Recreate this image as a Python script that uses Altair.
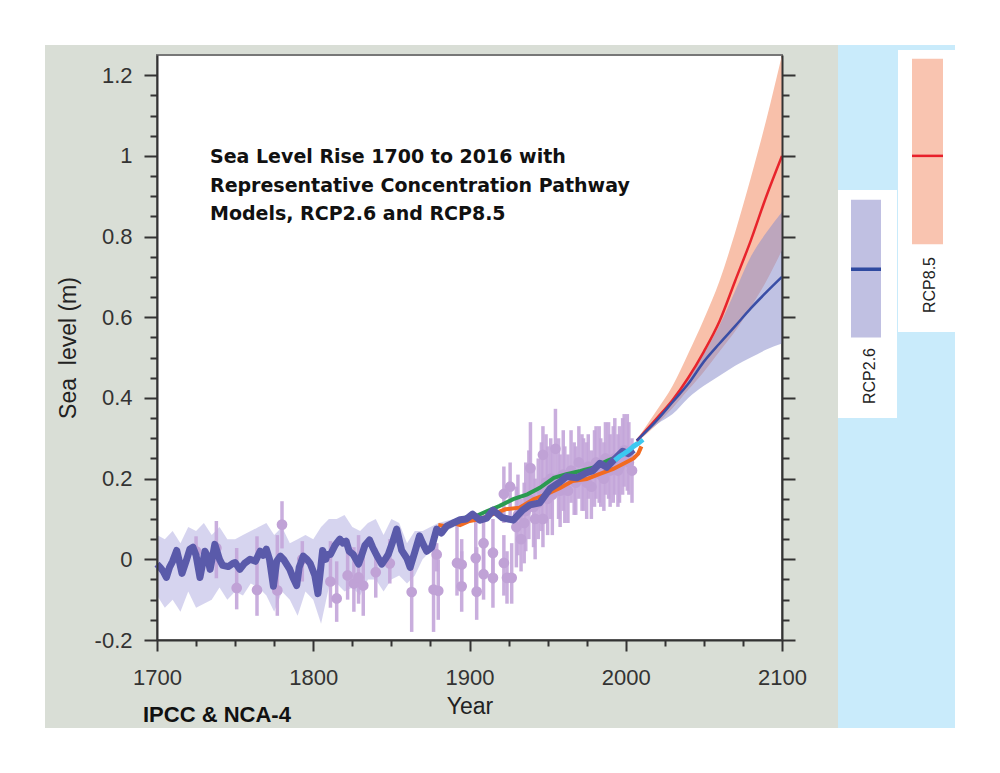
import altair as alt
import pandas as pd

# ---------------- reconstructed global mean sea level (thick blue) ----------------
recon_year = [1700, 1702, 1704, 1706, 1708, 1710, 1712.6, 1714, 1716, 1719, 1721, 1723, 1725,
              1727.5, 1730.7, 1732, 1734, 1737, 1740, 1742, 1745.6, 1748.6, 1750, 1753, 1756,
              1759.5, 1763, 1766, 1768, 1770, 1772, 1774.5, 1776.6, 1779, 1781, 1785, 1787,
              1789.4, 1791, 1793.6, 1796, 1798, 1801, 1803, 1806, 1808, 1809, 1811, 1814, 1817,
              1819, 1821, 1823, 1825.6, 1829, 1831, 1833, 1836, 1838, 1840.6, 1843.8, 1846,
              1848, 1851, 1853.4, 1856.6, 1860, 1862, 1865, 1868, 1870, 1872.6, 1875.8, 1879,
              1882, 1885.4, 1889.6, 1894, 1898, 1902, 1906.7, 1911, 1915, 1921, 1928, 1934,
              1938.7, 1945, 1951.5, 1958, 1962, 1968.6, 1975, 1979, 1983.5, 1987.8, 1992, 1998,
              2001.5, 2005]
recon_val = [-0.012, -0.02, -0.03, -0.045, -0.02, -0.005, 0.022, 0.0, -0.035, 0.0, 0.025, 0.03,
             0.01, -0.045, 0.02, 0.01, -0.025, 0.037, 0.0, -0.015, -0.018, -0.01, -0.008,
             -0.025, -0.01, 0.0, -0.005, 0.02, 0.01, 0.025, 0.0, -0.067, -0.005, 0.008, 0.0,
             -0.025, -0.045, -0.065, -0.02, 0.008, 0.0, -0.01, -0.04, -0.085, 0.022, 0.0, 0.012,
             0.012, 0.035, 0.05, 0.04, 0.045, 0.02, 0.012, -0.012, 0.01, 0.034, 0.048, 0.03,
             0.01, -0.012, 0.0, 0.012, 0.045, 0.075, 0.022, 0.002, -0.02, 0.018, 0.058, 0.04,
             0.02, 0.03, 0.075, 0.065, 0.082, 0.09, 0.098, 0.1, 0.112, 0.097, 0.102, 0.122,
             0.103, 0.097, 0.122, 0.135, 0.14, 0.175, 0.192, 0.205, 0.202, 0.215, 0.22, 0.238,
             0.228, 0.245, 0.268, 0.262, 0.272]

# uncertainty envelope of the reconstruction
band_year = [1700, 1705, 1710, 1715, 1720, 1725, 1730, 1735, 1740, 1745, 1750, 1755, 1760,
             1765, 1770, 1775, 1780, 1785, 1790, 1795, 1800, 1805, 1810, 1815, 1820, 1825,
             1830, 1835, 1840, 1845, 1850, 1855, 1860, 1865, 1870, 1875, 1880, 1890]
band_hi = [0.06, 0.05, 0.07, 0.04, 0.08, 0.07, 0.09, 0.06, 0.08, 0.05, 0.05, 0.06, 0.07,
           0.08, 0.09, 0.06, 0.08, 0.04, 0.05, 0.06, 0.05, 0.08, 0.10, 0.10, 0.11, 0.08,
           0.07, 0.09, 0.10, 0.06, 0.10, 0.09, 0.04, 0.07, 0.07, 0.08, 0.09, 0.10]
band_lo = [-0.09, -0.12, -0.10, -0.13, -0.08, -0.12, -0.11, -0.10, -0.07, -0.10, -0.08, -0.09,
           -0.06, -0.07, -0.09, -0.13, -0.08, -0.10, -0.14, -0.08, -0.10, -0.16, -0.07, -0.06,
           -0.08, -0.07, -0.09, -0.05, -0.05, -0.08, -0.05, -0.04, -0.06, -0.04, 0.0, 0.02,
           0.06, 0.08]

# tide-gauge / proxy estimates with error bars (lilac)
tg_year = [1725, 1738, 1751, 1764, 1777, 1780, 1793, 1811, 1815, 1822, 1826, 1829, 1832,
           1840, 1849, 1863, 1877, 1880, 1879, 1892, 1895, 1895, 1904, 1904.6, 1909, 1909,
           1915, 1915, 1922, 1922, 1924, 1926, 1927, 1930, 1933, 1936, 1939, 1942, 1944,
           1947, 1947, 1950, 1952, 1955, 1958, 1960, 1963, 1965, 1968, 1970, 1973, 1976,
           1978, 1981, 1984, 1987, 1990, 1993, 1996, 1999, 2002, 2004,
           1931, 1935, 1938, 1941, 1946, 1949, 1953, 1957, 1961, 1967, 1972, 1975, 1980,
           1983, 1986, 1989, 1992, 1995, 1998, 2001]
tg_val = [0.02, 0.028, -0.071, -0.076, -0.077, 0.086, 0.0, -0.055, -0.097, -0.04, -0.06,
          -0.045, -0.065, -0.032, -0.01, -0.081, -0.075, -0.078, 0.012, -0.009, -0.067,
          -0.013, 0.003, -0.08, 0.04, -0.037, 0.016, -0.046, 0.162, -0.009, -0.046, 0.18,
          -0.046, 0.08, 0.05, 0.12, 0.226, 0.10, 0.14, 0.259, 0.10, 0.15, 0.20, 0.274, 0.17,
          0.21, 0.17, 0.22, 0.19, 0.24, 0.20, 0.23, 0.18, 0.24, 0.21, 0.25, 0.22, 0.25, 0.23,
          0.27, 0.24, 0.22,
          0.11, 0.09, 0.15, 0.13, 0.17, 0.19, 0.16, 0.20, 0.18, 0.20, 0.21, 0.19, 0.22,
          0.23, 0.20, 0.24, 0.23, 0.22, 0.25, 0.26]
tg_lo = [-0.012, -0.047, -0.124, -0.14, -0.14, 0.027, -0.055, -0.12, -0.155, -0.10, -0.13,
         -0.11, -0.14, -0.095, -0.06, -0.18, -0.18, -0.15, -0.03, -0.09, -0.13, -0.07, -0.08,
         -0.15, -0.03, -0.10, -0.06, -0.12, 0.09, -0.09, -0.11, 0.10, -0.11, -0.02, -0.03,
         0.02, 0.12, 0.0, 0.05, 0.18, 0.03, 0.06, 0.10, 0.177, 0.08, 0.12, 0.09, 0.14, 0.11,
         0.15, 0.12, 0.15, 0.10, 0.15, 0.13, 0.16, 0.13, 0.16, 0.14, 0.18, 0.16, 0.14,
         0.01, -0.01, 0.05, 0.03, 0.07, 0.09, 0.06, 0.10, 0.09, 0.11, 0.12, 0.10, 0.13,
         0.14, 0.12, 0.15, 0.14, 0.13, 0.16, 0.17]
tg_hi = [0.057, 0.095, 0.028, 0.057, 0.06, 0.144, 0.045, 0.045, -0.005, 0.05, 0.03, 0.06,
         0.02, 0.027, 0.05, 0.0, 0.027, 0.0, 0.04, 0.09, 0.02, 0.05, 0.10, 0.03, 0.10, 0.03,
         0.10, 0.03, 0.23, 0.06, 0.02, 0.24, 0.04, 0.18, 0.15, 0.24, 0.34, 0.20, 0.25, 0.33,
         0.20, 0.28, 0.30, 0.373, 0.26, 0.32, 0.26, 0.32, 0.28, 0.33, 0.30, 0.31, 0.27, 0.33,
         0.30, 0.34, 0.31, 0.35, 0.33, 0.36, 0.34, 0.30,
         0.21, 0.19, 0.27, 0.23, 0.29, 0.31, 0.27, 0.30, 0.28, 0.29, 0.31, 0.29, 0.32,
         0.33, 0.29, 0.34, 0.33, 0.31, 0.35, 0.36]

# other tide-gauge reconstructions and satellite altimetry
green_year = [1895, 1900, 1906, 1911, 1919, 1928, 1937, 1945, 1954, 1962, 1971, 1979, 1988, 1992]
green_val = [0.10, 0.107, 0.11, 0.119, 0.132, 0.149, 0.161, 0.177, 0.202, 0.211, 0.219, 0.227,
             0.244, 0.25]
orange_year = [1880, 1885, 1890, 1894, 1900, 1907, 1915, 1923, 1932, 1941, 1949, 1958, 1966,
               1975, 1983, 1992, 2000, 2005, 2008, 2010]
orange_val = [0.085, 0.082, 0.09, 0.085, 0.095, 0.10, 0.112, 0.124, 0.128, 0.149, 0.161,
              0.177, 0.194, 0.199, 0.211, 0.224, 0.24, 0.25, 0.262, 0.28]
cyan_year = [1993, 1996, 1999, 2002, 2005, 2008, 2011]
cyan_val = [0.245, 0.255, 0.262, 0.27, 0.28, 0.288, 0.297]

# ---------------- projections ----------------
proj_year = [2007, 2020, 2030, 2040, 2050, 2060, 2070, 2080, 2090, 2100]
rcp85_mid = [0.294, 0.35, 0.395, 0.45, 0.515, 0.59, 0.69, 0.79, 0.90, 1.0]
rcp85_hi = [0.296, 0.37, 0.43, 0.51, 0.595, 0.69, 0.81, 0.945, 1.09, 1.25]
rcp85_lo = [0.29, 0.335, 0.375, 0.42, 0.465, 0.515, 0.565, 0.625, 0.69, 0.766]
rcp26_mid = [0.294, 0.345, 0.39, 0.435, 0.49, 0.535, 0.578, 0.622, 0.662, 0.70]
rcp26_hi = [0.296, 0.352, 0.40, 0.45, 0.51, 0.58, 0.665, 0.75, 0.81, 0.861]
rcp26_lo = [0.29, 0.335, 0.36, 0.40, 0.43, 0.455, 0.48, 0.50, 0.52, 0.535]

# likely range and median in 2100 shown in the side key
key_names = ["RCP2.6", "RCP8.5"]
key_lo = [0.55, 0.781]
key_hi = [0.891, 1.241]
key_mid = [0.719, 1.0]

# axis ticks
x_ticks = list(range(1700, 2101, 25))
y_ticks = [round(-0.2 + 0.05 * i, 2) for i in range(29)]

# ---------------- chart ----------------
W, H = 625, 585
FONT = "Liberation Sans"
xs = alt.Scale(domain=[1700, 2100], nice=False, zero=False)
ys = alt.Scale(domain=[-0.2, 1.25], nice=False, zero=False)


def one_row():
    return pd.DataFrame({"k": [0]})


def box(x1, x2, y1, y2, fill, **kw):
    return alt.Chart(one_row()).mark_rect(fill=fill, **kw).encode(
        x=alt.value(x1), x2=alt.value(x2), y=alt.value(y1), y2=alt.value(y2))


def label(txt, x, y, **kw):
    return alt.Chart(one_row()).mark_text(**kw).encode(
        x=alt.value(x), y=alt.value(y), text=alt.value(txt))


def X(field, axis=None):
    return alt.X(field, type="quantitative", scale=xs, axis=axis)


def Y(field, axis=None):
    return alt.Y(field, type="quantitative", scale=ys, axis=axis)


major_y = "abs(datum.value * 5 - round(datum.value * 5)) < 0.001"
major_x = "datum.value % 100 === 0"

y_left_axis = alt.Axis(
    orient="left", values=y_ticks, title="Sea\u00a0 level (m)",
    tickSize={"condition": {"test": major_y, "value": 13}, "value": 7},
    tickWidth=2, tickColor="#333", domainColor="#333", domainWidth=2,
    labelExpr=f"{major_y} ? (datum.value < -0.001 ? '-' + format(-datum.value, '~f') : format(datum.value, '~f')) : ''",
    labelFont=FONT, labelFontSize=22, labelColor="#333", labelPadding=12,
    labelOverlap=False, labelFlush=False, grid=False,
    titleFont=FONT, titleFontSize=23, titleFontWeight="normal", titleColor="#222",
    titlePadding=14, zindex=2)

y_right_axis = alt.Axis(
    orient="right", values=y_ticks, title=None, labels=False,
    tickSize={"condition": {"test": major_y, "value": 13}, "value": 7},
    tickWidth=2, tickColor="#333", domainColor="#333", domainWidth=2,
    grid=False, zindex=2)

x_axis = alt.Axis(
    orient="bottom", values=x_ticks, title="Year",
    tickSize={"condition": {"test": major_x, "value": 11}, "value": 6},
    tickWidth=2, tickColor="#333", domainColor="#333", domainWidth=2,
    labelExpr=f"{major_x} ? format(datum.value, 'd') : ''",
    labelFont=FONT, labelFontSize=22, labelColor="#333", labelPadding=16,
    labelOverlap=False, labelFlush=False, grid=False,
    titleFont=FONT, titleFontSize=23, titleFontWeight="normal", titleColor="#222",
    titlePadding=7, zindex=2)

# backgrounds
bg_grey = box(-112, 681, -10, 673, "#d9ded6")
bg_blue = box(681, 798, -10, 673, "#c9ebfb")
plot_bg = box(0, W, 0, H, "white", stroke="#777", strokeWidth=2)
key_box_85 = box(741, 799, -5, 277, "white")
key_box_26 = box(681, 740, 135, 363, "white")

# reconstruction envelope
band_df = pd.DataFrame({"year": band_year, "hi": band_hi, "lo": band_lo})
band = alt.Chart(band_df).mark_area(color="#cfcdec", opacity=0.85).encode(
    x=X("year"), y=Y("lo"), y2="hi")

tg_df = pd.DataFrame({"year": tg_year, "val": tg_val, "lo": tg_lo, "hi": tg_hi})
tg_bars = alt.Chart(tg_df).mark_rule(color="#c3a5d9", strokeWidth=3.5, opacity=0.9).encode(
    x=X("year"), y=Y("lo"), y2="hi")
tg_dots = alt.Chart(tg_df).mark_point(filled=True, shape="circle", size=115, color="#c0a2d6",
                                       opacity=1).encode(x=X("year"), y=Y("val"))

recon_df = pd.DataFrame({"year": recon_year, "val": recon_val})
recon = alt.Chart(recon_df).mark_line(color="#5a5aaa", strokeWidth=7, strokeJoin="round").encode(
    x=X("year", x_axis), y=Y("val", y_left_axis))

green = alt.Chart(pd.DataFrame({"year": green_year, "val": green_val})).mark_line(
    color="#2a9a50", strokeWidth=4).encode(x=X("year"), y=Y("val"))
orange = alt.Chart(pd.DataFrame({"year": orange_year, "val": orange_val})).mark_line(
    color="#f26b21", strokeWidth=4).encode(x=X("year"), y=Y("val"))
cyan = alt.Chart(pd.DataFrame({"year": cyan_year, "val": cyan_val})).mark_line(
    color="#3cc8f0", strokeWidth=5).encode(x=X("year"), y=Y("val"))

proj_df = pd.DataFrame({"year": proj_year,
                        "m85": rcp85_mid, "h85": rcp85_hi, "l85": rcp85_lo,
                        "m26": rcp26_mid, "h26": rcp26_hi, "l26": rcp26_lo})
band85 = alt.Chart(proj_df).mark_area(color="#f8c0aa", interpolate="monotone").encode(
    x=X("year"), y=Y("l85"), y2="h85")
band26 = alt.Chart(proj_df).mark_area(color="#8c90cc", opacity=0.55, interpolate="monotone").encode(
    x=X("year"), y=Y("l26"), y2="h26")
line85 = alt.Chart(proj_df).mark_line(color="#e8242c", strokeWidth=2.5, interpolate="monotone").encode(
    x=X("year"), y=Y("m85"))
line26 = alt.Chart(proj_df).mark_line(color="#3a4ea6", strokeWidth=2.5, interpolate="monotone").encode(
    x=X("year"), y=Y("m26"))

# side key: likely range in 2100 as bars against the same vertical scale
key_df = pd.DataFrame({"name": key_names, "lo": key_lo, "hi": key_hi, "mid": key_mid})
key85 = key_df[key_df["name"] == "RCP8.5"]
key26 = key_df[key_df["name"] == "RCP2.6"]
key_bar_85 = alt.Chart(key85).mark_rect(color="#f9c4b0").encode(
    x=alt.value(755), x2=alt.value(786), y=Y("lo", y_right_axis), y2="hi")
key_bar_26 = alt.Chart(key26).mark_rect(color="#c0c0e2").encode(
    x=alt.value(694), x2=alt.value(724), y=Y("lo"), y2="hi")
key_mid_85 = alt.Chart(key85).mark_rule(color="#e8202a", strokeWidth=2.5).encode(
    x=alt.value(755), x2=alt.value(786), y=Y("mid"))
key_mid_26 = alt.Chart(key26).mark_rule(color="#2f4aa0", strokeWidth=3.5).encode(
    x=alt.value(694), x2=alt.value(724), y=Y("mid"))
key_lab_85 = label("RCP8.5", 773, 230, angle=270, font=FONT, fontSize=16, color="#222",
                   align="center", baseline="middle")
key_lab_26 = label("RCP2.6", 713, 321, angle=270, font=FONT, fontSize=16, color="#222",
                   align="center", baseline="middle")

title = label(["Sea Level Rise 1700 to 2016 with",
               "Representative Concentration Pathway",
               "Models, RCP2.6 and RCP8.5"], 53, 108,
              font="DejaVu Sans", fontWeight="bold", fontSize=19, color="#111",
              align="left", baseline="alphabetic", lineHeight=28.5)
source = label("IPCC & NCA-4", -14, 667, font=FONT, fontWeight="bold", fontSize=22,
               color="#111", align="left", baseline="alphabetic")

chart = alt.layer(
    bg_grey, bg_blue, plot_bg, key_box_85, key_box_26,
    band, tg_bars, tg_dots, orange, green, recon, cyan,
    band85, band26, line85, line26,
    key_bar_85, key_bar_26, key_mid_85, key_mid_26, key_lab_85, key_lab_26,
    title, source,
).resolve_axis(x="independent", y="independent").properties(
    width=W, height=H,
    autosize=alt.AutoSizeParams(type="none"),
    padding={"left": 157, "top": 55, "right": 218, "bottom": 133},
    background="white",
).configure_view(stroke=None)

chart.save("out.html", embed_options={"renderer": "svg", "actions": False})
